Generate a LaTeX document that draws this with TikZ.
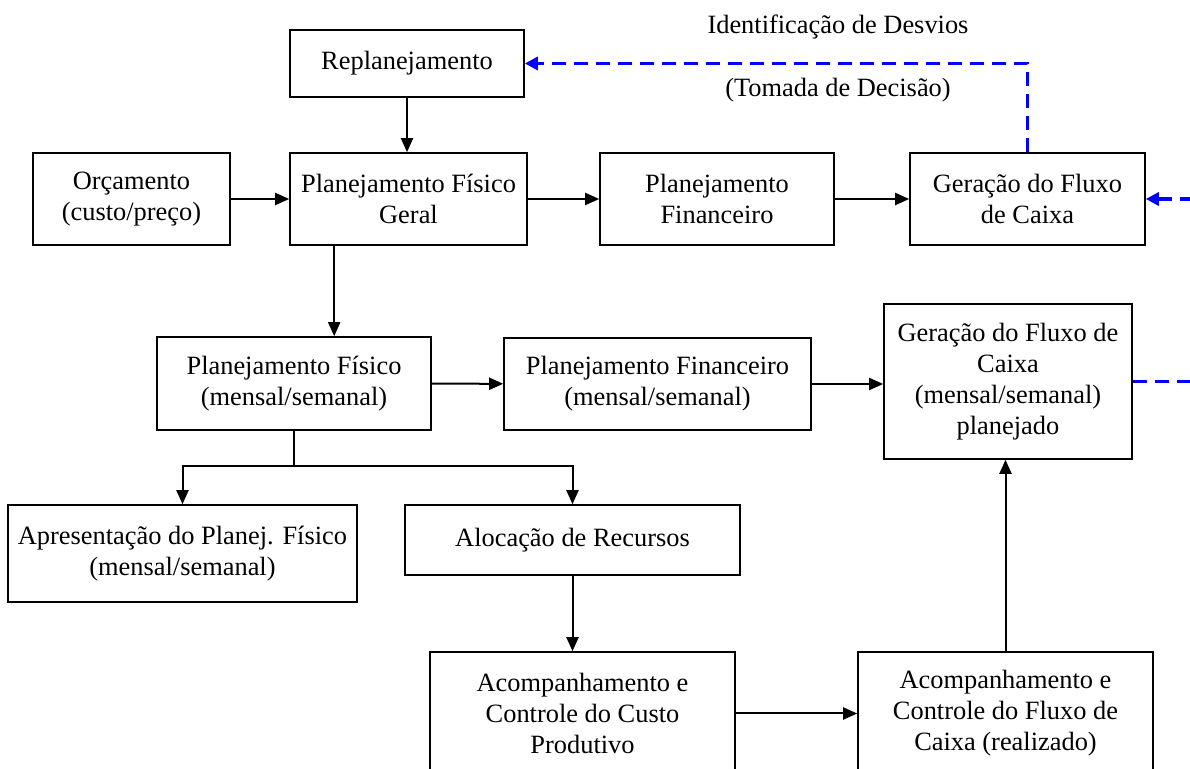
\documentclass[tikz,border=0pt]{standalone}
\usepackage{fontspec}
\setmainfont{Liberation Serif}
\usetikzlibrary{arrows.meta,calc}

\begin{document}
\begin{tikzpicture}[x=0.5pt,y=-0.5pt,
    caixa/.style={draw,line width=0.8pt,align=center,inner sep=0pt,font=\fontsize{13.2}{15.5}\selectfont},
    texto/.style={font=\fontsize{13.2}{15.5}\selectfont},
    seta/.style={line width=1pt,-{Triangle[length=7pt,width=6pt]}},
    desvio/.style={blue,line width=1.6pt,dash pattern=on 7pt off 4pt,-{Triangle[length=6.5pt,width=6.5pt]}}]
    \clip (0,0) rectangle (1190,769);
    \node[caixa,minimum width=117pt,minimum height=33.5pt] (replan) at (407,63.5) {Replanejamento};
    \node[caixa,minimum width=98.5pt,minimum height=46pt] (orc) at (131.5,199) {Orçamento\\(custo/preço)};
    \node[caixa,minimum width=118.5pt,minimum height=46pt] (pfg) at (408.5,199) {Planejamento Físico\\Geral};
    \node[caixa,minimum width=117pt,minimum height=46pt] (pfin) at (717,199) {Planejamento\\Financeiro};
    \node[caixa,minimum width=117.5pt,minimum height=46pt] (gfc) at (1027.5,199) {Geração do Fluxo\\de Caixa};
    \node[caixa,minimum width=137pt,minimum height=46.5pt] (pfm) at (294,383.5) {Planejamento Físico\\(mensal/semanal)};
    \node[caixa,minimum width=153.5pt,minimum height=46pt] (pfinm) at (657.5,384) {Planejamento Financeiro\\(mensal/semanal)};
    \node[caixa,minimum width=124pt,minimum height=77.5pt] (gfcp) at (1008,381.5) {Geração do Fluxo de\\Caixa\\(mensal/semanal)\\planejado};
    \node[caixa,minimum width=174.5pt,minimum height=48.5pt] (apres) at (182.5,553.5) {Apresentação do Planej. Físico\\(mensal/semanal)};
    \node[caixa,minimum width=167.5pt,minimum height=35pt] (aloc) at (572.5,540) {Alocação de Recursos};
    \node[caixa,minimum width=152.5pt,minimum height=61.5pt] (custo) at (582.5,713.5) {Acompanhamento e\\Controle do Custo\\Produtivo};
    \node[caixa,minimum width=147.5pt,minimum height=61.5pt] (fluxo) at (1005.5,713.5) {Acompanhamento e\\Controle do Fluxo de\\Caixa (realizado)};
    \node[texto] (ident) at (838,27) {Identificação de Desvios};
    \node[texto] (tomada) at (838,90) {(Tomada de Decisão)};

    \draw[seta] (replan.south) -- (replan.south |- pfg.north);
    \draw[seta] (orc) -- (pfg);
    \draw[seta] (pfg) -- (pfin);
    \draw[seta] (pfin) -- (gfc);
    \coordinate (desce) at ($(pfg.south west)+(45,0)$);
    \draw[seta] (desce) -- (desce |- pfm.north);
    \draw[seta] (pfm) -- (pfinm);
    \draw[seta] (pfinm) -- (pfinm -| gfcp.west);
    \coordinate (ramo) at (294,466);
    \draw[line width=1pt] (pfm.south) -- (ramo);
    \draw[seta] (ramo) -| (apres.north);
    \draw[seta] (ramo) -| (aloc.north);
    \draw[seta] (aloc.south) -- (aloc.south |- custo.north);
    \draw[seta] (custo) -- (fluxo);
    \draw[seta] (fluxo.north) -- (fluxo.north |- gfcp.south);
    \draw[desvio] (gfc.north) |- (replan.east);
    \coordinate (volta) at (1215,199);
    \draw[desvio] (gfcp.east) -| (volta) -- (gfc.east);
\end{tikzpicture}
\end{document}
